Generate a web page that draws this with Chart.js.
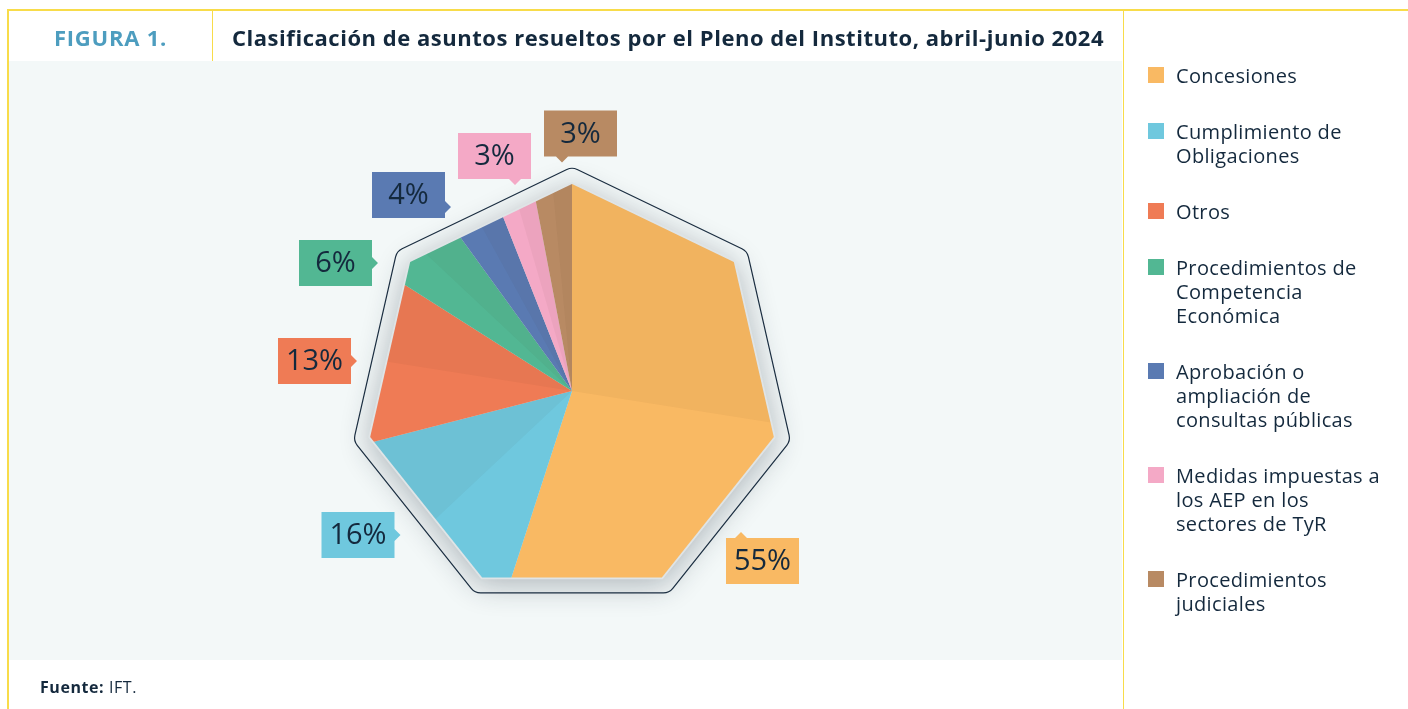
<!DOCTYPE html>
<html><head><meta charset="utf-8">
<script src="https://cdn.jsdelivr.net/npm/chart.js@4.4.1/dist/chart.umd.min.js"></script>
<style>
html,body{margin:0;padding:0;width:1408px;height:709px;overflow:hidden;background:#fff;font-family:"Open Sans",sans-serif;color:#14293d}
.abs{position:absolute}
#panel{left:9px;top:61px;width:1113px;height:599px;background:#f3f8f8}
.yl{position:absolute;background:#f8dc4a}
#c{position:absolute;left:0;top:0;width:1408px;height:709px}
#fig{left:9px;width:203px;top:21px;height:32px;line-height:32px;text-align:center;font-weight:700;font-size:22px;color:#4d9dbf;white-space:nowrap}
#fig span,#title span,#foot span.w{display:inline-block}
#title{left:232px;top:21px;line-height:32px;font-weight:700;font-size:22px;white-space:nowrap}
#legend{position:absolute;left:1148px;top:64px}
.item{display:flex;margin-bottom:32px}
.sw{width:16px;height:16px;margin-top:3px;margin-right:12px;flex:none}
.lt{font-size:20px;font-weight:500;line-height:24px;white-space:nowrap}
.lt div{display:table}
#foot{left:40px;top:676px;font-size:16px;line-height:22px;white-space:nowrap}
</style></head>
<body>
<div id="panel" class="abs"></div>
<div class="yl" style="left:7px;top:9px;width:1401px;height:2px"></div>
<div class="yl" style="left:7px;top:9px;width:2px;height:700px"></div>
<div class="yl" style="left:212px;top:10px;width:1px;height:51px"></div>
<div class="yl" style="left:1123px;top:10px;width:1px;height:699px"></div>
<canvas id="c" width="1408" height="709"></canvas>
<div id="fig" class="abs"><span>FIGURA 1.</span></div>
<div id="title" class="abs"><span>Clasificación de asuntos resueltos por el Pleno del Instituto, abril-junio 2024</span></div>
<div id="legend"></div>
<div id="foot" class="abs"><span class="w"><b>Fuente:</b> IFT.</span></div>
<script>
// ---- data ----
const categories = [
  ["Concesiones"],
  ["Cumplimiento de","Obligaciones"],
  ["Otros"],
  ["Procedimientos de","Competencia","Económica"],
  ["Aprobación o","ampliación de","consultas públicas"],
  ["Medidas impuestas a","los AEP en los","sectores de TyR"],
  ["Procedimientos","judiciales"]
];
const shares = [55, 16, 13, 6, 4, 3, 3];
const colors = ["#f9b963","#6fc8de","#ef7b55","#52b793","#5a7ab2","#f4a9c6","#b88a63"];

// ---- callout layout (offsets from pie centre; style only) ----
const calloutLayout = [
  {dx:190.5, dy:170, side:"top", p:-21.5},
  {dx:-214, dy:144, side:"right", p:0},
  {dx:-257.5, dy:-30, side:"right", p:0},
  {dx:-236.5, dy:-128, side:"right", p:0},
  {dx:-163.5, dy:-196, side:"right", p:12},
  {dx:-77.5, dy:-235, side:"bottom", p:20.5},
  {dx:8.5, dy:-257.5, side:"bottom", p:-18.5}
];
const PIE_R = 207, OUT_R = 224, BOX_W = 73, BOX_H = 46;

function fit(el, target){
  const w = el.getBoundingClientRect().width;
  const n = el.textContent.length;
  el.style.letterSpacing = ((target - w) / n) + "px";
}

// legend
const lg = document.getElementById("legend");
let fitRef = null;
categories.forEach((lines, i) => {
  const it = document.createElement("div"); it.className = "item";
  const sw = document.createElement("div"); sw.className = "sw"; sw.style.background = colors[i];
  const lt = document.createElement("div"); lt.className = "lt";
  lines.forEach(l => { const d = document.createElement("div"); d.textContent = l; lt.appendChild(d); if (l === "Medidas impuestas a") fitRef = d; });
  it.appendChild(sw); it.appendChild(lt); lg.appendChild(it);
});

function heptPts(cx, cy, r){
  const p = [];
  for (let k = 0; k < 7; k++){ const a = -Math.PI/2 + k*2*Math.PI/7; p.push([cx + r*Math.cos(a), cy + r*Math.sin(a)]); }
  return p;
}
function heptPath(ctx, cx, cy, r){
  const p = heptPts(cx, cy, r); ctx.beginPath();
  p.forEach((q, k) => k ? ctx.lineTo(q[0], q[1]) : ctx.moveTo(q[0], q[1])); ctx.closePath();
}
function roundHeptPath(ctx, cx, cy, r, rad){
  const p = heptPts(cx, cy, r); ctx.beginPath();
  const m = [(p[6][0]+p[0][0])/2, (p[6][1]+p[0][1])/2];
  ctx.moveTo(m[0], m[1]);
  for (let k = 0; k < 7; k++){ const a = p[k], b = p[(k+1)%7]; ctx.arcTo(a[0], a[1], b[0], b[1], rad); }
  ctx.closePath();
}

const heptPlugin = {
  id: "hept",
  beforeDatasetsDraw(chart){
    const ctx = chart.ctx, el = chart.getDatasetMeta(0).data[0];
    const cx = el.x, cy = el.y;
    ctx.save();
    ctx.save();
    ctx.shadowColor = "rgba(30,45,60,0.32)"; ctx.shadowBlur = 30; ctx.shadowOffsetY = 6;
    heptPath(ctx, cx, cy, PIE_R + 2); ctx.fillStyle = "#dfe4e6"; ctx.fill();
    ctx.restore();
    roundHeptPath(ctx, cx, cy, OUT_R, 12);
    ctx.strokeStyle = "#1a2d40"; ctx.lineWidth = 1.2; ctx.stroke();
    heptPath(ctx, cx, cy, PIE_R); ctx.clip();
  },
  afterDatasetsDraw(chart){
    const ctx = chart.ctx, meta = chart.getDatasetMeta(0);
    const cx = meta.data[0].x, cy = meta.data[0].y;
    // facet shading
    meta.data.forEach((el, i) => {
      const s = el.startAngle, e = el.endAngle, m = (s + e) / 2;
      const a = i === 0 ? s : m, b = i === 0 ? m : e;
      ctx.beginPath(); ctx.moveTo(cx, cy); ctx.arc(cx, cy, PIE_R + 40, a, b); ctx.closePath();
      ctx.fillStyle = "rgba(60,40,20,0.045)"; ctx.fill();
    });
    ctx.restore();
    // callouts
    ctx.save();
    meta.data.forEach((el, i) => {
      const c = calloutLayout[i];
      const x0 = cx + c.dx - BOX_W/2, y0 = cy + c.dy - BOX_H/2, x1 = x0 + BOX_W, y1 = y0 + BOX_H;
      const bx = cx + c.dx, by = cy + c.dy;
      ctx.beginPath();
      ctx.moveTo(x0, y0);
      if (c.side === "top"){ ctx.lineTo(bx + c.p - 6, y0); ctx.lineTo(bx + c.p, y0 - 6); ctx.lineTo(bx + c.p + 6, y0); }
      ctx.lineTo(x1, y0);
      if (c.side === "right"){ ctx.lineTo(x1, by + c.p - 6); ctx.lineTo(x1 + 6, by + c.p); ctx.lineTo(x1, by + c.p + 6); }
      ctx.lineTo(x1, y1);
      if (c.side === "bottom"){ ctx.lineTo(bx + c.p + 6, y1); ctx.lineTo(bx + c.p, y1 + 6); ctx.lineTo(bx + c.p - 6, y1); }
      ctx.lineTo(x0, y1); ctx.closePath();
      ctx.fillStyle = colors[i]; ctx.fill();
      ctx.fillStyle = "#14293d"; ctx.font = '500 29px "Open Sans"';
      ctx.textAlign = "center"; ctx.textBaseline = "middle";
      ctx.fillText(chart.data.datasets[0].data[i] + "%", bx, by + 1);
    });
    ctx.restore();
  }
};

function build(){
  fit(document.querySelector("#title span"), 872);
  fit(document.querySelector("#fig span"), 113);
  fit(document.querySelector("#foot span"), 97);
  if (fitRef){
    const w = fitRef.getBoundingClientRect().width, n = fitRef.textContent.length;
    const ls = (204 - w) / n;
    document.querySelectorAll(".lt div").forEach(d => d.style.letterSpacing = ls + "px");
  }
  new Chart(document.getElementById("c"), {
    type: "pie",
    data: {
      labels: categories.map(l => l.join(" ")),
      datasets: [{ data: shares, backgroundColor: colors, borderWidth: 0 }]
    },
    options: {
      responsive: false, animation: false, events: [],
      layout: { padding: { left: 100, right: 364, top: 150, bottom: 77 } },
      plugins: { legend: { display: false }, tooltip: { enabled: false } }
    },
    plugins: [heptPlugin]
  });
}
if (document.fonts && document.fonts.load) {
  Promise.all([document.fonts.load('500 29px "Open Sans"'), document.fonts.load('bold 22px "Open Sans"'), document.fonts.load('500 20px "Open Sans"')]).then(build, build);
} else build();
</script>
</body></html>
